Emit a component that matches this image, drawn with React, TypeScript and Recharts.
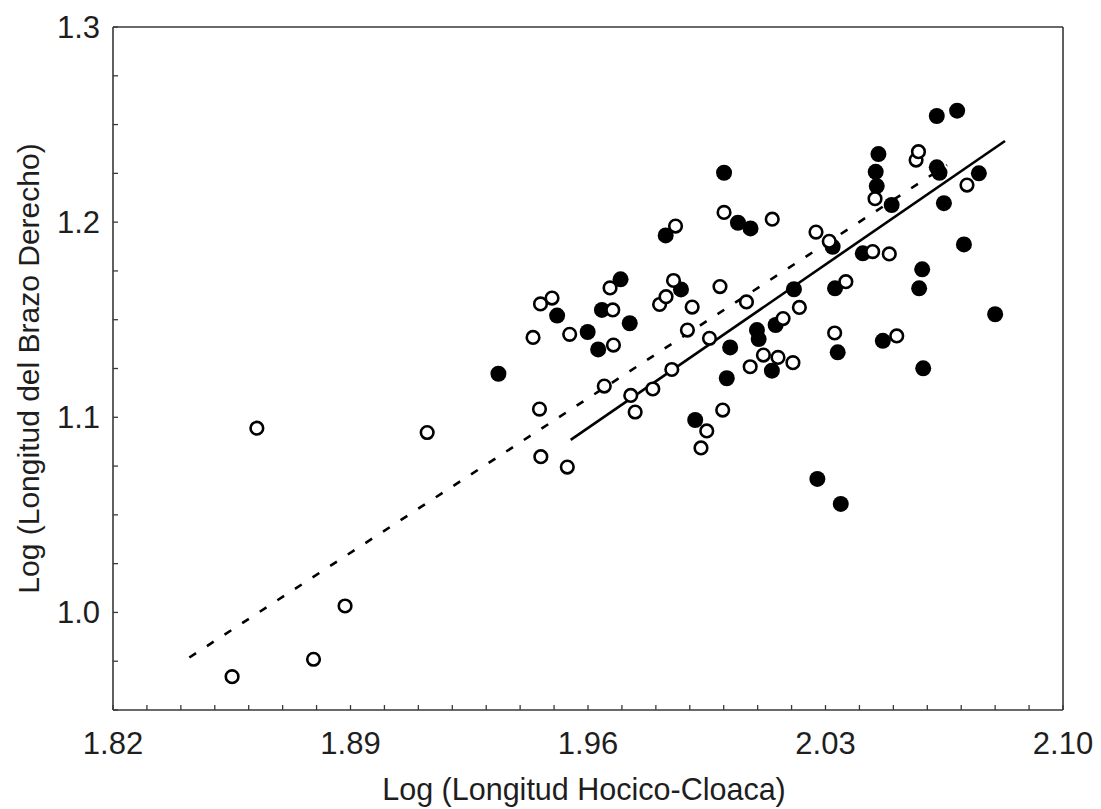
import { ScatterChart, Scatter, XAxis, YAxis, ReferenceLine } from "recharts";

// open circles
const hollowSVL = [
  1.8551, 1.8624, 1.8791, 1.8884, 1.9126, 1.9438, 1.946, 1.9494, 1.9457, 1.9461,
  1.9539, 1.9546, 1.9648, 1.9665, 1.9673, 1.9675, 1.9726, 1.9739, 1.9791, 1.9811,
  1.983, 1.9847, 1.9852, 1.9858, 1.9893, 1.9907, 1.9933, 1.995, 1.9958, 1.9989,
  1.9997, 2.0001, 2.0067, 2.0078, 2.0117, 2.0143, 2.016, 2.0175, 2.0204, 2.0223,
  2.0272, 2.0311, 2.0327, 2.036, 2.0439, 2.0446, 2.0488, 2.051, 2.0567, 2.0574,
  2.0717,
];
const hollowArm = [
  0.9671, 1.0944, 0.976, 1.0033, 1.0922, 1.1409, 1.1581, 1.1611, 1.1042, 1.0798,
  1.0745, 1.1425, 1.116, 1.1663, 1.155, 1.137, 1.1112, 1.1027, 1.1145, 1.1578,
  1.1618, 1.1245, 1.1701, 1.198, 1.1447, 1.1565, 1.0843, 1.093, 1.1405, 1.167,
  1.1037, 1.205, 1.1591, 1.1259, 1.1319, 1.2015, 1.1307, 1.1506, 1.128, 1.1563,
  1.1949, 1.1902, 1.1432, 1.1695, 1.1849, 1.212, 1.1837, 1.1417, 1.2318, 1.2361,
  1.219,
];

// filled circles
const solidSVL = [
  1.9336, 1.9509, 1.9599, 1.963, 1.9641, 1.9696, 1.9723, 1.9829, 1.9874, 1.9916,
  2.0001, 2.0009, 2.0019, 2.0042, 2.0079, 2.0098, 2.0103, 2.0153, 2.0142, 2.0207,
  2.0276, 2.0321, 2.0328, 2.0336, 2.0345, 2.041, 2.0448, 2.0451, 2.0456, 2.0469,
  2.0495, 2.0576, 2.0585, 2.0588, 2.0628, 2.0628, 2.0636, 2.0649, 2.0688, 2.0708,
  2.0752, 2.08,
];
const solidArm = [
  1.1223, 1.1521, 1.1437, 1.1348, 1.155, 1.1707, 1.1482, 1.1932, 1.1655, 1.0986,
  1.2253, 1.12, 1.1358, 1.1997, 1.1968, 1.1447, 1.1401, 1.1473, 1.1239, 1.1656,
  1.0684, 1.1874, 1.1661, 1.1333, 1.0556, 1.184, 1.2258, 1.2185, 1.2349, 1.1392,
  1.2088, 1.1661, 1.1758, 1.1251, 1.2544, 1.2281, 1.2253, 1.2097, 1.2571, 1.1886,
  1.225, 1.1528,
];

// fitted lines (ends)
const dashedFitSVL = [1.8425, 2.0658];
const dashedFitArm = [0.9769, 1.2293];
const solidFitSVL = [1.9549, 2.0829];
const solidFitArm = [1.0884, 1.2416];

const xTicks = [
  1.82, 1.83, 1.84, 1.85, 1.86, 1.87, 1.88, 1.89, 1.9, 1.91, 1.92, 1.93, 1.94, 1.95, 1.96,
  1.97, 1.98, 1.99, 2.0, 2.01, 2.02, 2.03, 2.04, 2.05, 2.06, 2.07, 2.08, 2.09, 2.1,
];
const xTickLabels = [1.82, 1.89, 1.96, 2.03, 2.1];
const topTicks = [1.825, 1.85, 1.875, 1.9, 1.925, 1.95, 1.975, 2.0, 2.025, 2.05, 2.075];
const yTicks = [
  0.95, 0.975, 1.0, 1.025, 1.05, 1.075, 1.1, 1.125, 1.15, 1.175, 1.2, 1.225, 1.25, 1.275, 1.3,
];
const yTickLabels = [1.0, 1.1, 1.2, 1.3];

const hollowData = hollowSVL.map((x, i) => ({ x, y: hollowArm[i] }));
const solidData = solidSVL.map((x, i) => ({ x, y: solidArm[i] }));

const font = "Liberation Sans, Arial, sans-serif";
const axisColor = "#383838";
const tickStyle = { fontSize: 31, fill: "#1e1e1e", fontFamily: font };

const isLabel = (list: number[], v: number) => list.some((l) => Math.abs(l - v) < 1e-6);

const OpenDot = (p: any) => (
  <circle cx={p.cx} cy={p.cy} r={6.3} fill="#fff" stroke="#000" strokeWidth={2.6} />
);
const FilledDot = (p: any) => <circle cx={p.cx} cy={p.cy} r={8} fill="#000" />;

export default function App() {
  return (
    <div style={{ position: "absolute", left: 0, top: 0, background: "#fff" }}>
      <ScatterChart
        width={1101}
        height={809}
        margin={{ top: 17, right: 28, bottom: 39, left: 23 }}
      >
        <XAxis
          type="number"
          dataKey="x"
          domain={[1.82, 2.1]}
          allowDataOverflow
          ticks={xTicks}
          interval={0}
          height={60}
          tickSize={-5}
          tickMargin={27}
          axisLine={{ stroke: axisColor, strokeWidth: 1.6 }}
          tickLine={{ stroke: axisColor, strokeWidth: 1.3 }}
          tick={tickStyle}
          tickFormatter={(v: number) => (isLabel(xTickLabels, v) ? v.toFixed(2) : "")}
          label={{
            content: ({ viewBox }: any) => (
              <text
                x={viewBox.x + viewBox.width / 2 - 4}
                y={800}
                textAnchor="middle"
                fontSize={30.5}
                fontFamily={font}
                fill="#1e1e1e"
              >
                Log (Longitud Hocico-Cloaca)
              </text>
            ),
          }}
        />
        <XAxis
          xAxisId="top"
          orientation="top"
          type="number"
          domain={[1.82, 2.1]}
          allowDataOverflow
          ticks={topTicks}
          interval={0}
          height={10}
          tickSize={-5}
          axisLine={{ stroke: axisColor, strokeWidth: 1.6 }}
          tickLine={{ stroke: axisColor, strokeWidth: 1.3 }}
          tick={false}
        />
        <YAxis
          type="number"
          dataKey="y"
          domain={[0.95, 1.3]}
          allowDataOverflow
          ticks={yTicks}
          interval={0}
          width={90}
          tickSize={-5}
          tickMargin={18}
          axisLine={{ stroke: axisColor, strokeWidth: 1.6 }}
          tickLine={{ stroke: axisColor, strokeWidth: 1.3 }}
          tick={tickStyle}
          tickFormatter={(v: number) => (isLabel(yTickLabels, v) ? v.toFixed(1) : "")}
          label={{
            content: ({ viewBox }: any) => {
              const cx = 28;
              const cy = viewBox.y + viewBox.height / 2;
              return (
                <text
                  x={cx}
                  y={cy}
                  transform={`rotate(-90 ${cx} ${cy})`}
                  textAnchor="middle"
                  dominantBaseline="central"
                  fontSize={30}
                  fontFamily={font}
                  fill="#1e1e1e"
                >
                  Log (Longitud del Brazo Derecho)
                </text>
              );
            },
          }}
        />
        <YAxis
          yAxisId="right"
          orientation="right"
          type="number"
          domain={[0.95, 1.3]}
          allowDataOverflow
          ticks={yTicks}
          interval={0}
          width={10}
          tickSize={-5}
          axisLine={{ stroke: axisColor, strokeWidth: 1.6 }}
          tickLine={{ stroke: axisColor, strokeWidth: 1.3 }}
          tick={false}
        />
        <Scatter data={solidData} shape={FilledDot} isAnimationActive={false} />
        <Scatter data={hollowData} shape={OpenDot} isAnimationActive={false} />
        <ReferenceLine
          segment={[
            { x: dashedFitSVL[0], y: dashedFitArm[0] },
            { x: dashedFitSVL[1], y: dashedFitArm[1] },
          ]}
          stroke="#000"
          strokeWidth={2.6}
          strokeDasharray="8 13"
          ifOverflow="visible"
        />
        <ReferenceLine
          segment={[
            { x: solidFitSVL[0], y: solidFitArm[0] },
            { x: solidFitSVL[1], y: solidFitArm[1] },
          ]}
          stroke="#000"
          strokeWidth={2.6}
          ifOverflow="visible"
        />
      </ScatterChart>
    </div>
  );
}
